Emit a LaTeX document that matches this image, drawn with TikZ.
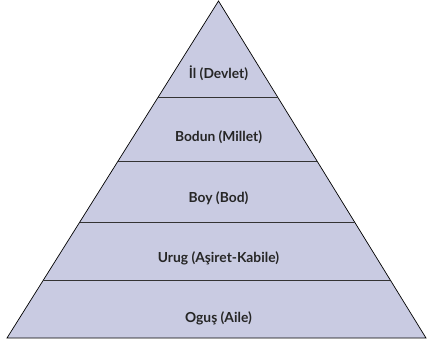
\documentclass[tikz,border=0pt]{standalone}
\usepackage{fontspec}
\setmainfont{Lato}
\usetikzlibrary{calc}
\definecolor{layerfill}{RGB}{201,203,226}

\begin{document}
\begin{tikzpicture}[x=1pt, y=-1pt, every node/.style={font=\bfseries\fontsize{13.8}{16}\selectfont, text=black!85}]
	\useasboundingbox (0,0) rectangle (428,341);
	\coordinate (apex) at (218.5,1);
	\coordinate (bl) at (7,338);
	\coordinate (br) at (426,338);
	\draw[fill=layerfill, line width=0.7pt, line join=miter] (apex) -- (br) -- (bl) -- cycle;
	\foreach \t [count=\i] in {0.2849, 0.4748, 0.6558, 0.8279} {
		\draw[line width=0.8pt, black!80] ($(apex)!\t!(bl)$) -- ($(apex)!\t!(br)$);
	}
	\node (il) at (218.5,73) {İl (Devlet)};
	\node (bodun) at (218.5,137) {Bodun (Millet)};
	\node (boy) at (218.5,198) {Boy (Bod)};
	\node (urug) at (218.5,258) {Urug (Aşiret-Kabile)};
	\node (ogus) at (218.5,318) {Oguş (Aile)};
\end{tikzpicture}
\end{document}
